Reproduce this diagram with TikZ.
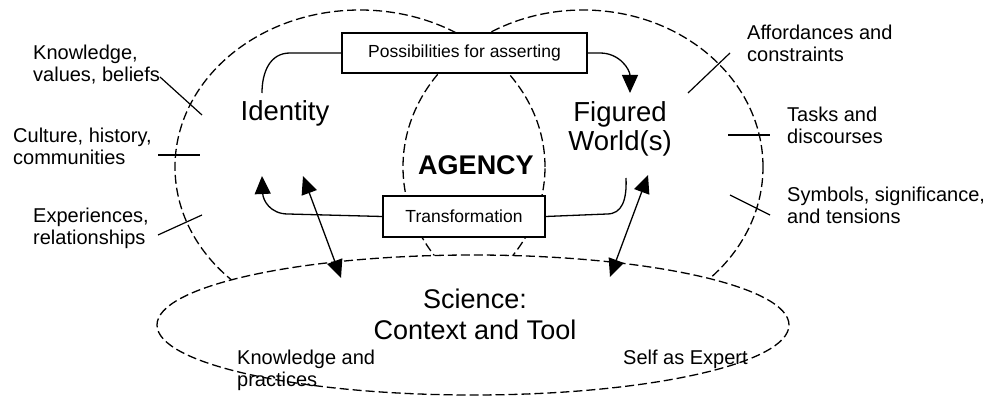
\documentclass[tikz,border=0pt]{standalone}
\usepackage{fontspec}
\setmainfont{Liberation Sans}
\usetikzlibrary{arrows.meta,shapes.geometric}
\begin{document}
\begin{tikzpicture}[x=1pt,y=-1pt,
  dashline/.style={draw, dash pattern=on 9pt off 4pt, line width=1.3pt},
  oval/.style={ellipse, dashline, inner sep=0pt, outer sep=0pt},
  box/.style={draw, fill=white, line width=1.3pt, inner sep=0pt,
    font=\fontsize{17.5}{20}\selectfont},
  lbl/.style={font=\fontsize{20}{22.5}\selectfont, align=left, anchor=north west, inner sep=0pt},
  big/.style={font=\fontsize{27.5}{28.5}\selectfont, inner sep=0pt},
  conn/.style={line width=1.3pt},
  tick/.style={line width=1.2pt},
  tipA/.style={-{Triangle[length=18pt,width=16pt]}},
  tipB/.style={{Triangle[length=18pt,width=16pt]}-{Triangle[length=18pt,width=16pt]}}
]
\useasboundingbox (0,0) rectangle (989,398);
\fill[white] (0,0) rectangle (989,398);

% the two large overlapping ovals
\node[oval, minimum width=370pt, minimum height=314pt] (leftE) at (360,167) {};
\node[oval, minimum width=360pt, minimum height=314pt] (rightE) at (583,167) {};
% science oval on top
\node[oval, fill=white, minimum width=632pt, minimum height=140pt] (sciE) at (473,325) {};

% boxes
\node[box, minimum width=245pt, minimum height=40pt] (poss) at (464.5,53) {Possibilities for asserting};
\node[box, minimum width=162pt, minimum height=41pt] (trans) at (464,216.5) {Transformation};

% main texts
\node[big, anchor=base] (ident) at (285,121) {Identity};
\node[big, align=center, anchor=north] (fw) at (620,101.8) {Figured\\World(s)};
\node[big, anchor=base, font=\fontsize{27}{28}\selectfont\bfseries] (agency) at (476,175) {AGENCY};
\node[inner sep=0pt, align=center, anchor=north, font=\fontsize{27}{30.5}\selectfont] (sci) at (475,289) {Science:\\Context and Tool};

% side labels
\node[lbl] (kvb) at (33,44.5) {Knowledge,\\values, beliefs};
\node[lbl] (chc) at (13,127.5) {Culture, history,\\communities};
\node[lbl] (exr) at (33,207.5) {Experiences,\\relationships};
\node[lbl] (afc) at (747,24.5) {Affordances and\\constraints};
\node[lbl] (tad) at (787,106.5) {Tasks and\\discourses};
\node[lbl] (sst) at (787,186.5) {Symbols, significance,\\and tensions};
\node[lbl] (kap) at (237,349.5) {Knowledge and\\practices};
\node[lbl] (sae) at (623,349.5) {Self as Expert};

% anchor points of connectors
\coordinate (identTop) at (262,93);
\coordinate (fwTop) at (630,93);
\coordinate (identBot) at (262,176);
\coordinate (fwBot) at (626,178);
\coordinate (dlTop) at (303,176);
\coordinate (dlBot) at (341,278);
\coordinate (drTop) at (648,175);
\coordinate (drBot) at (610,277);

% connectors
\draw[conn] (poss.west) -- (290,53) .. controls (270,53) and (262,72) .. (identTop);
\draw[conn, tipA] (poss.east) -- (600,53) .. controls (620,53) and (630,70) .. (fwTop);
\draw[conn, tipA] (trans.west) -- (288,214) .. controls (270,214) and (263,200) .. (identBot);
\draw[conn] (trans.east) -- (607,214) .. controls (622,214) and (627,200) .. (fwBot);
\draw[conn, tipB] (dlTop) -- (dlBot);
\draw[conn, tipB] (drTop) -- (drBot);

% ticks crossing the oval borders
\coordinate (t1a) at (160,77);  \coordinate (t1b) at (202,115);
\coordinate (t2a) at (158,155); \coordinate (t2b) at (200,155);
\coordinate (t3a) at (158,235); \coordinate (t3b) at (202,215);
\coordinate (t4a) at (688,93);  \coordinate (t4b) at (730,53);
\coordinate (t5a) at (728,135); \coordinate (t5b) at (770,135);
\coordinate (t6a) at (730,195); \coordinate (t6b) at (770,215);
\draw[tick] (t1a) -- (t1b);
\draw[tick] (t2a) -- (t2b);
\draw[tick] (t3a) -- (t3b);
\draw[tick] (t4a) -- (t4b);
\draw[tick] (t5a) -- (t5b);
\draw[tick] (t6a) -- (t6b);
\end{tikzpicture}
\end{document}
